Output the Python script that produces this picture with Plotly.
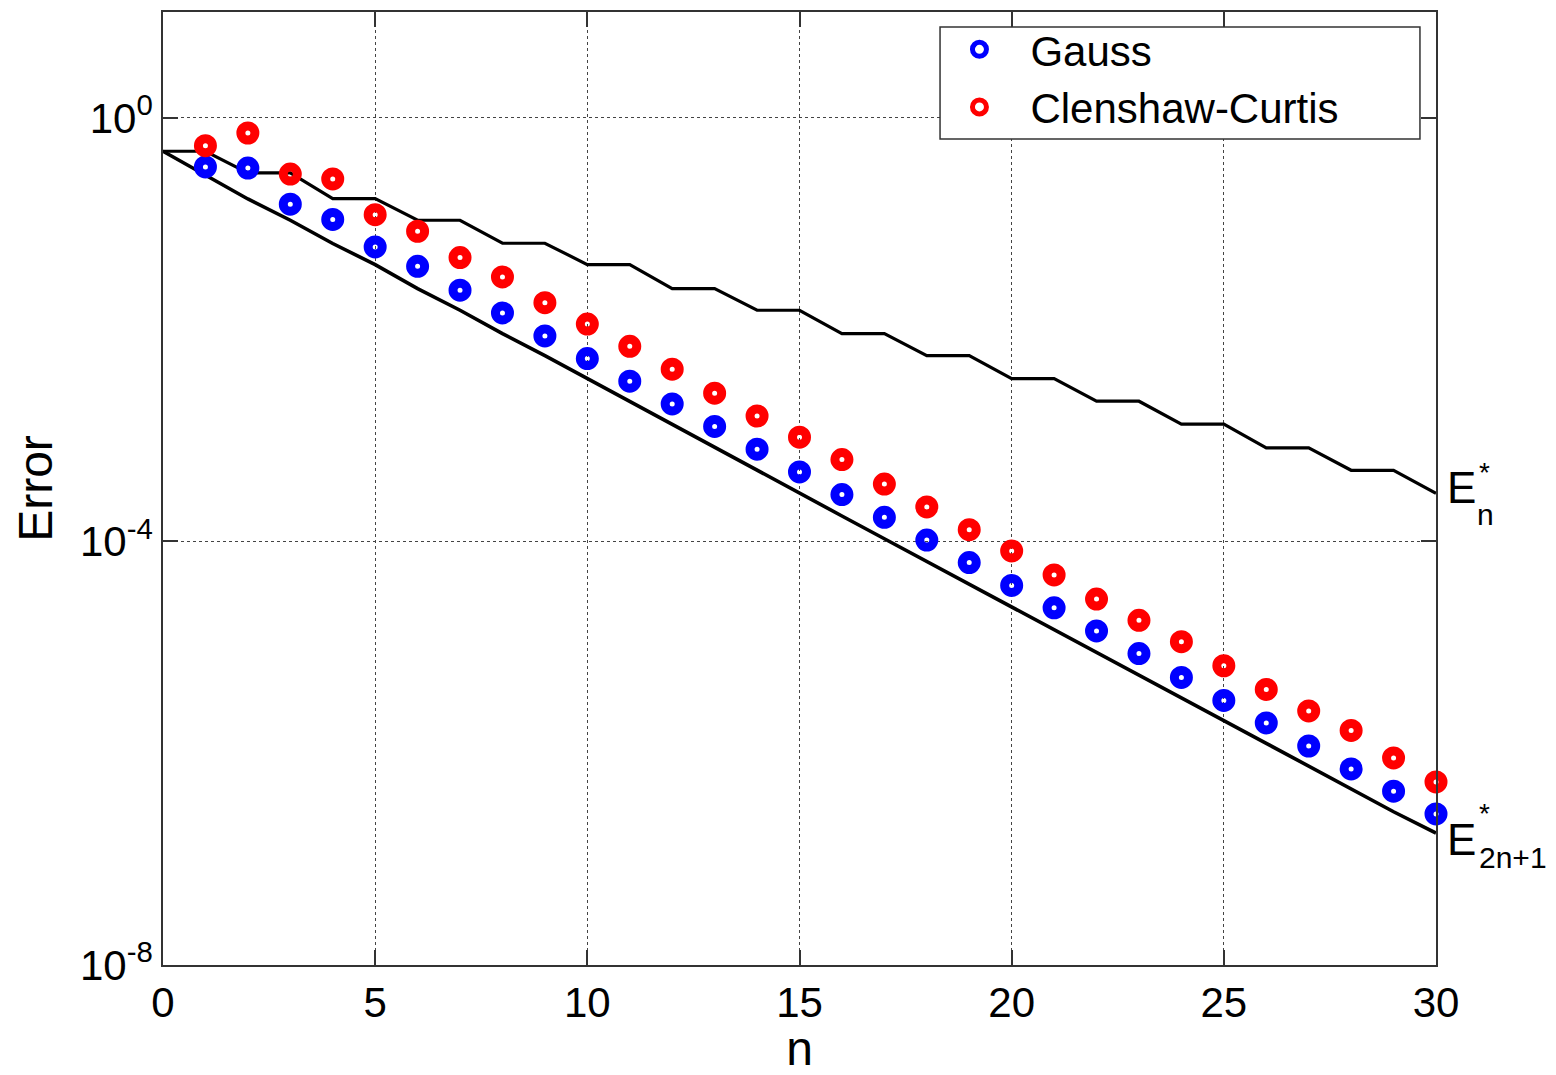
import math
import plotly.graph_objects as go

# ---------------- data ----------------
n_all = list(range(0, 31))
n_pts = list(range(1, 31))

gauss = [0.344, 0.336, 0.153, 0.110, 0.0604, 0.0397, 0.0236, 0.0144, 0.00872, 0.00533,
         0.00326, 0.00199, 0.00122, 7.43e-4, 4.53e-4, 2.77e-4, 1.69e-4, 1.03e-4, 6.32e-5, 3.84e-5,
         2.36e-5, 1.43e-5, 8.74e-6, 5.19e-6, 3.15e-6, 1.93e-6, 1.17e-6, 7.11e-7, 4.38e-7, 2.67e-7]

clenshaw_curtis = [0.547, 0.720, 0.295, 0.265, 0.122, 0.0850, 0.0480, 0.0315, 0.0180, 0.0113,
                   0.00697, 0.00423, 0.00251, 0.00153, 9.64e-4, 5.93e-4, 3.48e-4, 2.12e-4, 1.29e-4, 8.13e-5,
                   4.83e-5, 2.86e-5, 1.80e-5, 1.13e-5, 6.70e-6, 4.00e-6, 2.51e-6, 1.64e-6, 9.03e-7, 5.36e-7]

# best approximation error E*_n (staircase), n = 0..30
e_star_n = [0.484, 0.484, 0.302, 0.302, 0.173, 0.173, 0.108, 0.108, 0.0655, 0.0655,
            0.0412, 0.0412, 0.0244, 0.0244, 0.01525, 0.01525, 0.00919, 0.00919, 0.00569, 0.00569,
            0.00345, 0.00345, 0.00211, 0.00211, 0.00128, 0.00128, 7.64e-4, 7.64e-4, 4.70e-4, 4.70e-4,
            2.85e-4]

# E*_{2n+1}, n = 0..30
e_star_2n1 = [0.484, 0.287, 0.1715, 0.108, 0.0651, 0.0412, 0.0244, 0.01525, 0.00919, 0.00569,
              0.00345, 0.00211, 0.00128, 7.64e-4, 4.70e-4, 2.85e-4, 1.74e-4, 1.06e-4, 6.45e-5, 3.94e-5,
              2.40e-5, 1.46e-5, 8.9e-6, 5.45e-6, 3.32e-6, 2.03e-6, 1.24e-6, 7.52e-7, 4.59e-7, 2.80e-7,
              1.76e-7]

x_ticks = [0, 5, 10, 15, 20, 25, 30]
y_tickvals = [1e0, 1e-4, 1e-8]
y_ticktext = ["10<sup>0</sup>", "10<sup>-4</sup>", "10<sup>-8</sup>"]

FONT = "Liberation Sans, Arial, Helvetica, sans-serif"
AXC = "#333333"

fig = go.Figure()

fig.add_trace(go.Scatter(x=n_all, y=e_star_n, mode="lines", showlegend=False,
                         line=dict(color="black", width=3.2), hoverinfo="skip"))
fig.add_trace(go.Scatter(x=n_all, y=e_star_2n1, mode="lines", showlegend=False,
                         line=dict(color="black", width=3.6), hoverinfo="skip"))

marker_common = dict(symbol="circle-open", size=14)
fig.add_trace(go.Scatter(x=n_pts, y=gauss, mode="markers", name="Gauss", cliponaxis=False,
                         marker=dict(color="#0000ff", line=dict(color="#0000ff", width=9), **marker_common)))
fig.add_trace(go.Scatter(x=n_pts, y=clenshaw_curtis, mode="markers", name="Clenshaw-Curtis",
                         cliponaxis=False,
                         marker=dict(color="#ff0000", line=dict(color="#ff0000", width=9), **marker_common)))

# labels at right end of the lines
def add_label(yval, parts):
    for text, size, dx, dy in parts:
        fig.add_annotation(x=30, y=math.log10(yval), xref="x", yref="y", text=text,
                           showarrow=False, xanchor="center", yanchor="middle",
                           xshift=dx, yshift=dy,
                           font=dict(family=FONT, size=size, color="black"))

add_label(e_star_n[-1], [("E", 44, 25, 5.5), ("*", 28, 48, 21), ("n", 30, 49, -21)])
add_label(e_star_2n1[-1], [("E", 44, 25, -6), ("*", 28, 48, 20), ("2n+1", 30, 77, -24)])

# legend frame
fig.add_shape(type="rect", xref="paper", yref="paper", x0=0.6104, x1=0.9874, y0=0.8667, y1=0.9843,
              fillcolor="white", line=dict(color=AXC, width=1.5), layer="above")

# The page body adds an 8 px offset; figure is sized so the plot area lands where it should.
fig.update_layout(
    width=1548, height=1067,
    margin=dict(l=155, r=120, t=4, b=110),
    paper_bgcolor="white", plot_bgcolor="white",
    font=dict(family=FONT, size=42, color="black"),
    xaxis=dict(range=[0, 30], tickvals=x_ticks, ticks="inside", ticklen=15, tickwidth=1.5,
               tickcolor=AXC, showline=True, linecolor=AXC, linewidth=1.5, mirror="ticks",
               showgrid=True, gridcolor="#444444", griddash="dot", gridwidth=1,
               zeroline=False, tickfont=dict(size=42), automargin=False,
               title=dict(text="n", font=dict(size=48), standoff=20)),
    yaxis=dict(type="log", range=[-8, 1], tickvals=y_tickvals, ticktext=y_ticktext,
               ticks="inside", ticklen=15, tickwidth=1.5, tickcolor=AXC,
               showline=True, linecolor=AXC, linewidth=1.5, mirror="ticks",
               showgrid=True, gridcolor="#444444", griddash="dot", gridwidth=1,
               zeroline=False, tickfont=dict(size=42), automargin=False,
               title=dict(text="Error", font=dict(size=48), standoff=12)),
    legend=dict(x=0.6013, y=0.9963, xanchor="left", yanchor="top",
                bgcolor="rgba(0,0,0,0)", borderwidth=0,
                font=dict(size=42), itemwidth=92),
)

fig.write_html("out.html")
